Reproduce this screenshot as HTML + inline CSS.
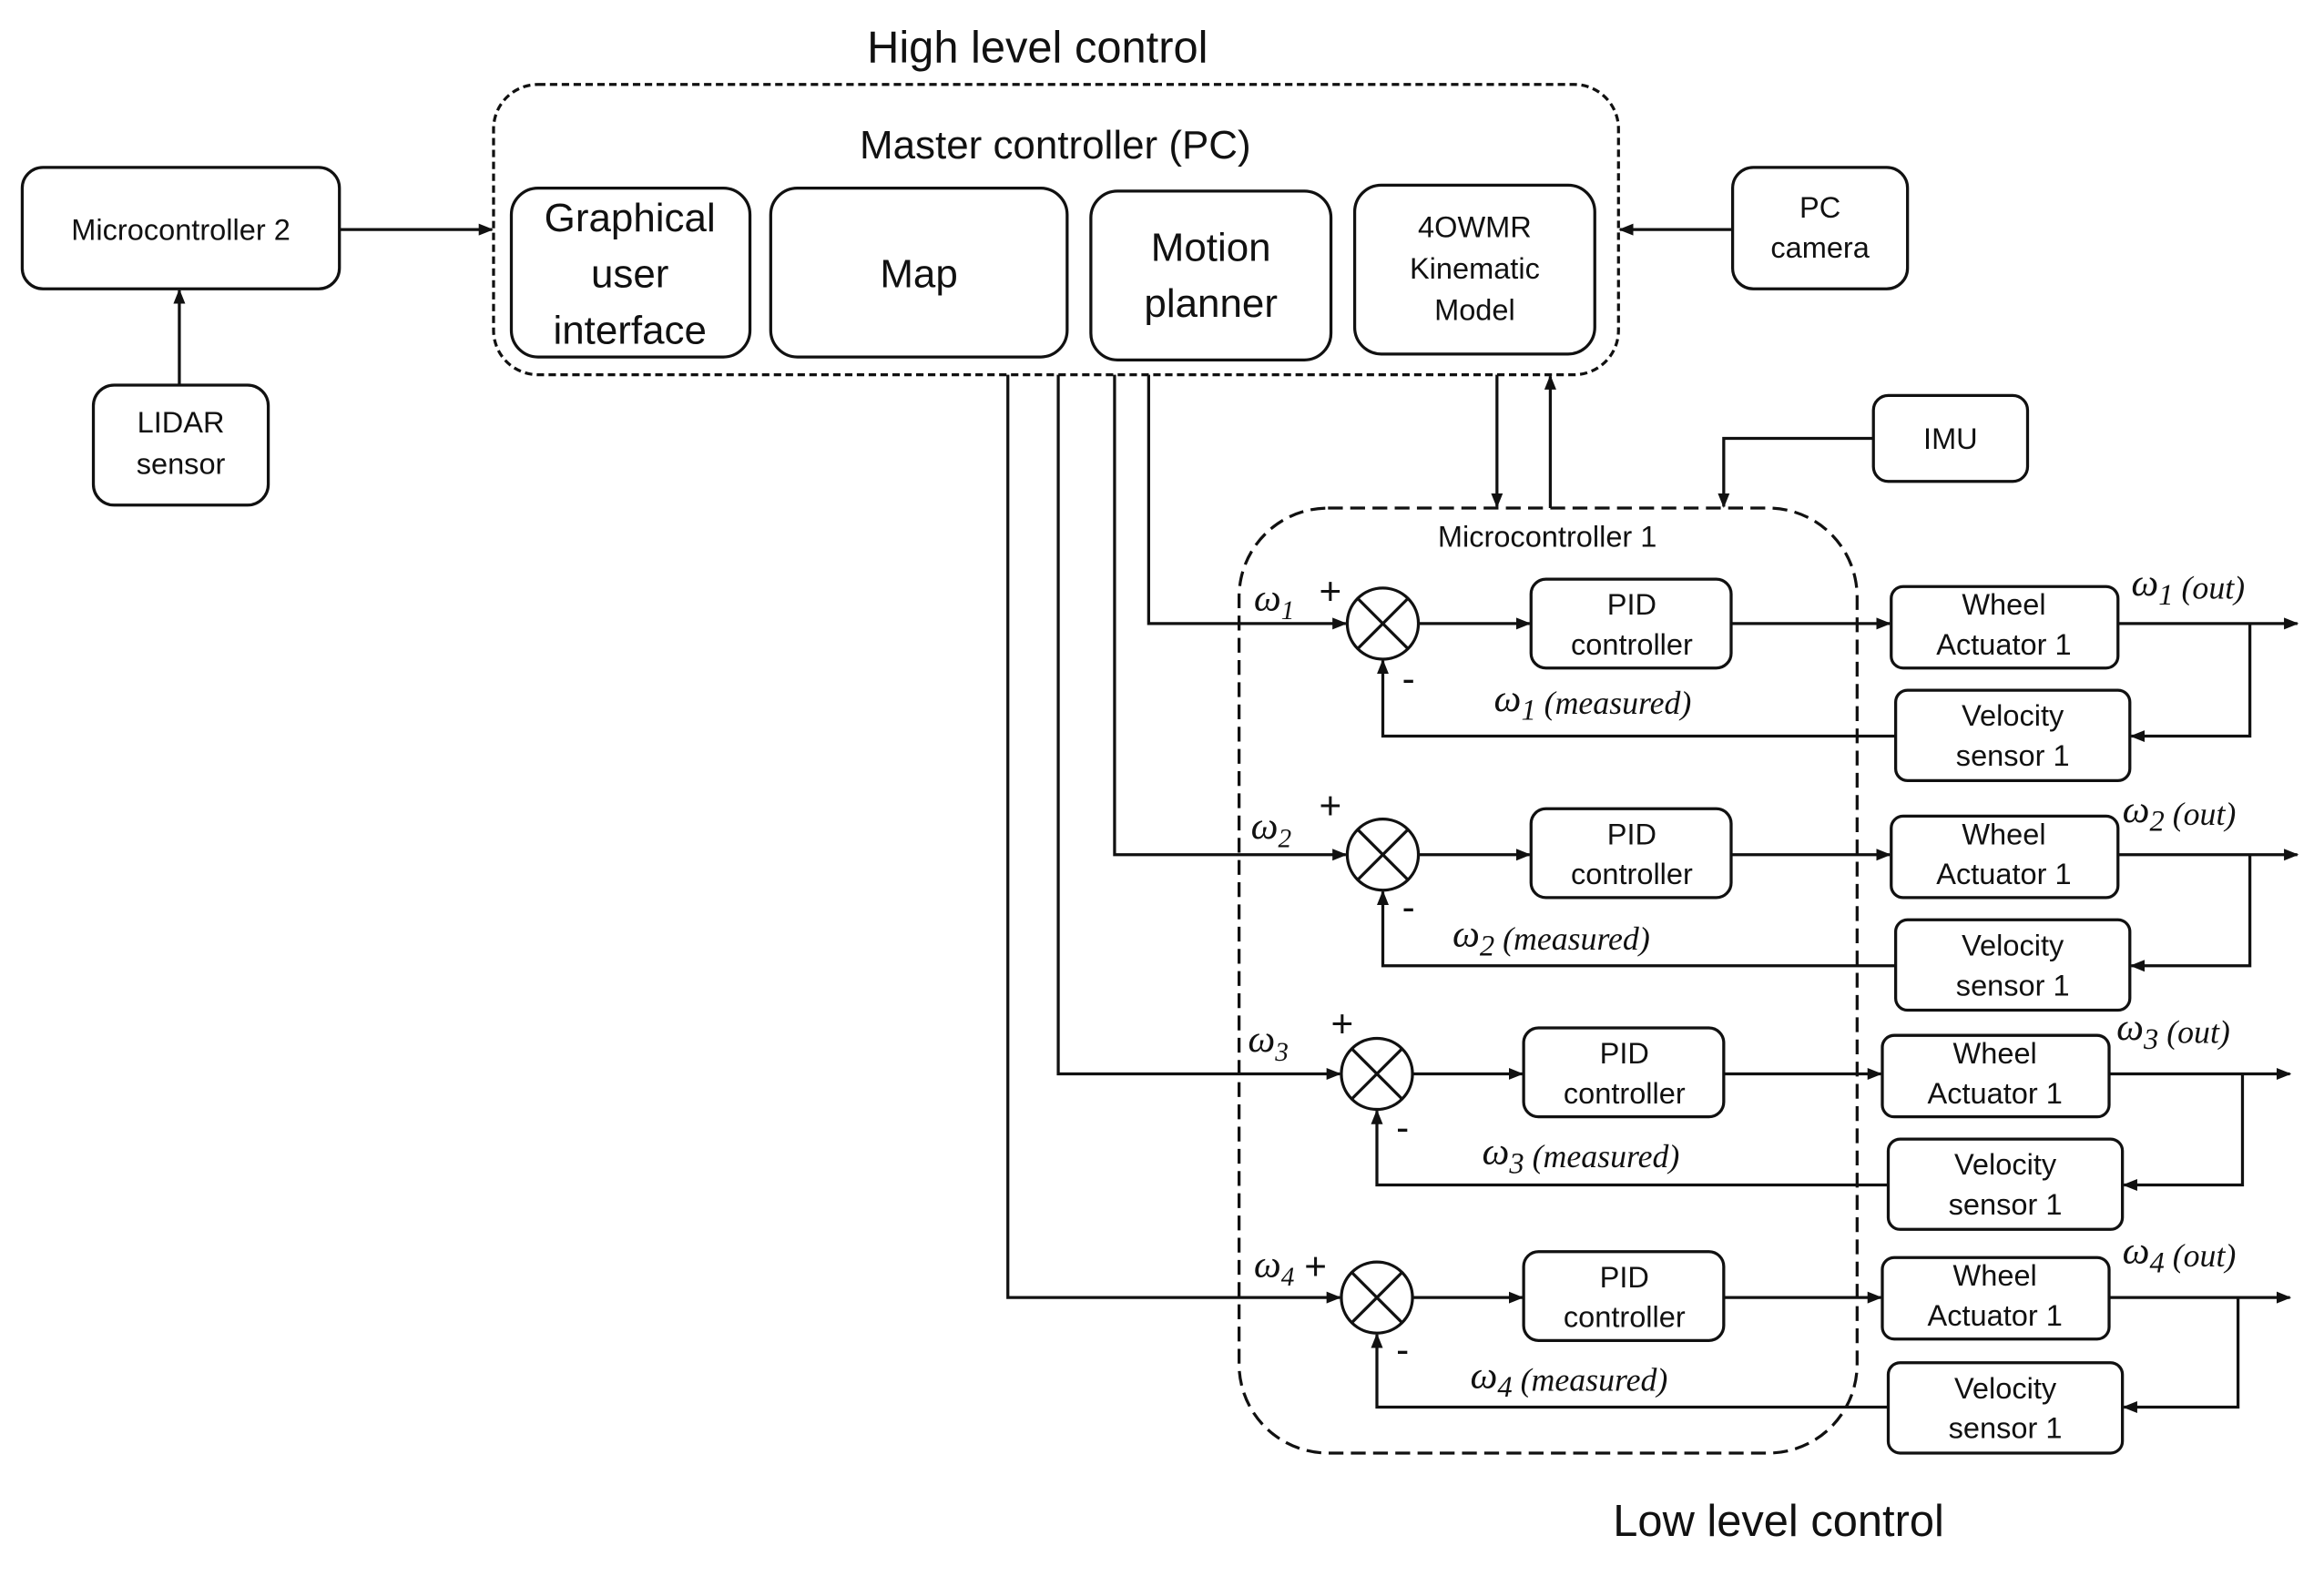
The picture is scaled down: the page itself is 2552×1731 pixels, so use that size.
<!DOCTYPE html>
<html><head><meta charset="utf-8"><style>
html,body{margin:0;padding:0;background:#fff;}
svg{display:block;}
text{font-family:"Liberation Sans",sans-serif;fill:#111;}
.m{font-family:"Liberation Serif",serif;font-style:italic;}
</style></head><body>
<svg width="2552" height="1731" viewBox="0 0 1568 1064" preserveAspectRatio="none" xmlns="http://www.w3.org/2000/svg">
<defs>
<marker id="a" markerWidth="10" markerHeight="10" refX="9" refY="5" orient="auto" markerUnits="userSpaceOnUse"><path d="M0,1 L10,5 L0,9 z" fill="#111"/></marker>
</defs>
<g fill="none" stroke="#111" stroke-width="2">
<!-- master -->
<rect x="333" y="57" width="759" height="196" rx="30" stroke-dasharray="5,3"/>
<rect x="345" y="127" width="161" height="114" rx="18"/>
<rect x="520" y="127" width="200" height="114" rx="18"/>
<rect x="736" y="129" width="162" height="114" rx="18"/>
<rect x="914" y="125" width="162" height="114" rx="18"/>
<rect x="15" y="113" width="214" height="82" rx="14"/>
<rect x="63" y="260" width="118" height="81" rx="14"/>
<rect x="1169" y="113" width="118" height="82" rx="14"/>
<rect x="1264" y="267" width="104" height="58" rx="10"/>
<line x1="229" y1="155" x2="332" y2="155" marker-end="url(#a)"/>
<line x1="121" y1="260" x2="121" y2="196" marker-end="url(#a)"/>
<line x1="1169" y1="155" x2="1093" y2="155" marker-end="url(#a)"/>
<polyline points="1264,296 1163,296 1163,342" marker-end="url(#a)"/>
<line x1="1010" y1="253" x2="1010" y2="342" marker-end="url(#a)"/>
<line x1="1046" y1="343" x2="1046" y2="254" marker-end="url(#a)"/>
<!-- micro1 -->
<rect x="836" y="343" width="417" height="638" rx="60" stroke-dasharray="10,5"/>
<!-- inputs -->
<polyline points="775,253 775,421 908,421" marker-end="url(#a)"/>
<polyline points="752,253 752,577 908,577" marker-end="url(#a)"/>
<polyline points="714,253 714,725 904,725" marker-end="url(#a)"/>
<polyline points="680,253 680,876 904,876" marker-end="url(#a)"/>
</g>
<g font-size="30" text-anchor="middle">
<text x="700" y="42">High level control</text>
<text x="1200" y="1037">Low level control</text>
</g>
<g font-size="27" text-anchor="middle">
<text x="712" y="107">Master controller (PC)</text>
<text x="425" y="156">Graphical</text><text x="425" y="194">user</text><text x="425" y="232">interface</text>
<text x="620" y="194">Map</text>
<text x="817" y="176">Motion</text><text x="817" y="214">planner</text>
</g>
<g font-size="20" text-anchor="middle">
<text x="995" y="160">4OWMR</text><text x="995" y="188">Kinematic</text><text x="995" y="216">Model</text>
<text x="122" y="162">Microcontroller 2</text>
<text x="122" y="292">LIDAR</text><text x="122" y="320">sensor</text>
<text x="1228" y="147">PC</text><text x="1228" y="174">camera</text>
<text x="1316" y="303">IMU</text>
<text x="1044" y="369">Microcontroller 1</text>
</g>
<g id="rows"></g>
<!-- rows -->
<g>
<!-- row generator manual -->
<g fill="none" stroke="#111" stroke-width="2">
<!-- row1 -->
<circle cx="933" cy="421" r="24"/><line x1="916" y1="404" x2="950" y2="438"/><line x1="950" y1="404" x2="916" y2="438"/>
<line x1="957" y1="421" x2="1032" y2="421" marker-end="url(#a)"/>
<rect x="1033" y="391" width="135" height="60" rx="10"/>
<line x1="1168" y1="421" x2="1275" y2="421" marker-end="url(#a)"/>
<rect x="1276" y="396" width="153" height="55" rx="8"/>
<line x1="1429" y1="421" x2="1550" y2="421" marker-end="url(#a)"/>
<polyline points="1518,421 1518,497 1438,497" marker-end="url(#a)"/>
<rect x="1279" y="466" width="158" height="61" rx="8"/>
<polyline points="1279,497 933,497 933,446" marker-end="url(#a)"/>
<!-- row2 -->
<circle cx="933" cy="577" r="24"/><line x1="916" y1="560" x2="950" y2="594"/><line x1="950" y1="560" x2="916" y2="594"/>
<line x1="957" y1="577" x2="1032" y2="577" marker-end="url(#a)"/>
<rect x="1033" y="546" width="135" height="60" rx="10"/>
<line x1="1168" y1="577" x2="1275" y2="577" marker-end="url(#a)"/>
<rect x="1276" y="551" width="153" height="55" rx="8"/>
<line x1="1429" y1="577" x2="1550" y2="577" marker-end="url(#a)"/>
<polyline points="1518,577 1518,652 1438,652" marker-end="url(#a)"/>
<rect x="1279" y="621" width="158" height="61" rx="8"/>
<polyline points="1279,652 933,652 933,602" marker-end="url(#a)"/>
<!-- row3 -->
<circle cx="929" cy="725" r="24"/><line x1="912" y1="708" x2="946" y2="742"/><line x1="946" y1="708" x2="912" y2="742"/>
<line x1="953" y1="725" x2="1027" y2="725" marker-end="url(#a)"/>
<rect x="1028" y="694" width="135" height="60" rx="10"/>
<line x1="1163" y1="725" x2="1269" y2="725" marker-end="url(#a)"/>
<rect x="1270" y="699" width="153" height="55" rx="8"/>
<line x1="1423" y1="725" x2="1545" y2="725" marker-end="url(#a)"/>
<polyline points="1513,725 1513,800 1433,800" marker-end="url(#a)"/>
<rect x="1274" y="769" width="158" height="61" rx="8"/>
<polyline points="1274,800 929,800 929,750" marker-end="url(#a)"/>
<!-- row4 -->
<circle cx="929" cy="876" r="24"/><line x1="912" y1="859" x2="946" y2="893"/><line x1="946" y1="859" x2="912" y2="893"/>
<line x1="953" y1="876" x2="1027" y2="876" marker-end="url(#a)"/>
<rect x="1028" y="845" width="135" height="60" rx="10"/>
<line x1="1163" y1="876" x2="1269" y2="876" marker-end="url(#a)"/>
<rect x="1270" y="849" width="153" height="55" rx="8"/>
<line x1="1423" y1="876" x2="1545" y2="876" marker-end="url(#a)"/>
<polyline points="1510,876 1510,950 1433,950" marker-end="url(#a)"/>
<rect x="1274" y="920" width="158" height="61" rx="8"/>
<polyline points="1274,950 929,950 929,901" marker-end="url(#a)"/>
</g>
<g font-size="20" text-anchor="middle">
<text x="1101" y="415">PID</text><text x="1101" y="442">controller</text>
<text x="1352" y="415">Wheel</text><text x="1352" y="442">Actuator 1</text>
<text x="1358" y="490">Velocity</text><text x="1358" y="517">sensor 1</text>
<text x="1101" y="570">PID</text><text x="1101" y="597">controller</text>
<text x="1352" y="570">Wheel</text><text x="1352" y="597">Actuator 1</text>
<text x="1358" y="645">Velocity</text><text x="1358" y="672">sensor 1</text>
<text x="1096" y="718">PID</text><text x="1096" y="745">controller</text>
<text x="1346" y="718">Wheel</text><text x="1346" y="745">Actuator 1</text>
<text x="1353" y="793">Velocity</text><text x="1353" y="820">sensor 1</text>
<text x="1096" y="869">PID</text><text x="1096" y="896">controller</text>
<text x="1346" y="868">Wheel</text><text x="1346" y="895">Actuator 1</text>
<text x="1353" y="944">Velocity</text><text x="1353" y="971">sensor 1</text>
</g>
<g font-size="26">
<text class="m" x="846" y="412">ω<tspan font-size="18" dy="6">1</tspan></text><text x="890" y="408">+</text><text x="946" y="467">-</text>
<text class="m" x="1008" y="480">ω<tspan font-size="20" dy="6">1</tspan><tspan font-size="22" dy="-4"> (measured)</tspan></text>
<text class="m" x="1438" y="402">ω<tspan font-size="20" dy="6">1</tspan><tspan font-size="22" dy="-4"> (out)</tspan></text>
<text class="m" x="844" y="566">ω<tspan font-size="18" dy="6">2</tspan></text><text x="890" y="553">+</text><text x="946" y="621">-</text>
<text class="m" x="980" y="639">ω<tspan font-size="20" dy="6">2</tspan><tspan font-size="22" dy="-4"> (measured)</tspan></text>
<text class="m" x="1432" y="555">ω<tspan font-size="20" dy="6">2</tspan><tspan font-size="22" dy="-4"> (out)</tspan></text>
<text class="m" x="842" y="710">ω<tspan font-size="18" dy="6">3</tspan></text><text x="898" y="700">+</text><text x="942" y="770">-</text>
<text class="m" x="1000" y="786">ω<tspan font-size="20" dy="6">3</tspan><tspan font-size="22" dy="-4"> (measured)</tspan></text>
<text class="m" x="1428" y="702">ω<tspan font-size="20" dy="6">3</tspan><tspan font-size="22" dy="-4"> (out)</tspan></text>
<text class="m" x="846" y="862">ω<tspan font-size="18" dy="6">4</tspan></text><text x="880" y="864">+</text><text x="942" y="920">-</text>
<text class="m" x="992" y="937">ω<tspan font-size="20" dy="6">4</tspan><tspan font-size="22" dy="-4"> (measured)</tspan></text>
<text class="m" x="1432" y="853">ω<tspan font-size="20" dy="6">4</tspan><tspan font-size="22" dy="-4"> (out)</tspan></text>
</g>
</g>
</svg>
</body></html>
